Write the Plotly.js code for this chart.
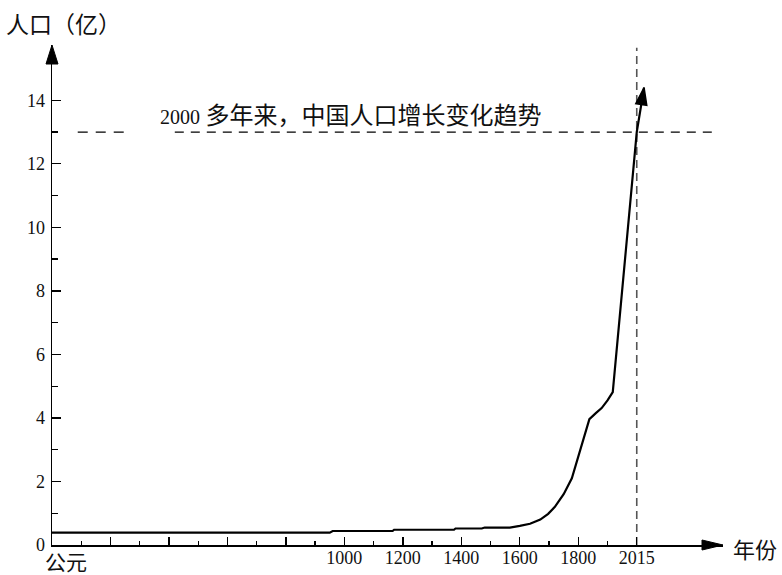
<!DOCTYPE html>
<html>
<head>
<meta charset="utf-8">
<script src="https://cdn.plot.ly/plotly-3.0.1.min.js"></script>
<style>html,body{margin:0;padding:0;background:#fff}#chart{width:782px;height:575px}</style>
</head>
<body>
<div id="chart"></div>
<script>
// Data (year, population in 亿)
const years = [0, 950, 960, 1165, 1170, 1375, 1380, 1470, 1480, 1566, 1600, 1635, 1670, 1697, 1720, 1750, 1778, 1806, 1838, 1860, 1880, 1900, 1918, 2000, 2025];
const population = [0.39, 0.39, 0.44, 0.44, 0.48, 0.48, 0.52, 0.52, 0.55, 0.55, 0.60, 0.67, 0.80, 0.98, 1.2, 1.6, 2.1, 3.0, 3.96, 4.15, 4.31, 4.55, 4.81, 13.0, 14.4];

const xMajorTicks = [200, 400, 600, 800, 1000, 1200, 1400, 1600, 1800, 2000];
const xMajorLabels = ['', '', '', '', '1000', '1200', '1400', '1600', '1800', '2015'];
const xMinorTicks = [100, 300, 500, 700, 900, 1100, 1300, 1500, 1700, 1900];
const yMajorTicks = [0, 2, 4, 6, 8, 10, 12, 14];
const yMinorTicks = [1, 3, 5, 7, 9, 11, 13];

const refLevel = 13;      // dashed horizontal reference (亿)
const refYear = 2000;     // dashed vertical reference, labelled 2015

const titleText = '<span style="font-family:\'Liberation Serif\';font-size:20px">2000</span> 多年来，中国人口增长变化趋势';
const yLabel = '人口（亿）';
const xLabel = '年份';
const originLabel = '公元';

const curve = {
  x: years, y: population, type: 'scatter', mode: 'lines',
  line: {color: '#000', width: 2.2},
  hoverinfo: 'skip', showlegend: false
};
// arrow head at the end of the curve, using the last two data points
const head = {
  x: years.slice(-2), y: population.slice(-2), type: 'scatter', mode: 'markers',
  marker: {symbol: 'arrow', angleref: 'previous', size: [0, 18], color: '#000', opacity: 1, line: {width: 1.5, color: '#000'}},
  hoverinfo: 'skip', showlegend: false
};

const serif = "'Liberation Serif', 'Times New Roman', serif";
const cjk = "'Noto Sans CJK SC', sans-serif";

const layout = {
  width: 782, height: 575,
  margin: {l: 52, r: 59, t: 45, b: 30},
  paper_bgcolor: '#fff', plot_bgcolor: '#fff',
  showlegend: false,
  xaxis: {
    range: [0, 2295], showgrid: false, zeroline: false,
    showline: true, linecolor: '#000', linewidth: 1.5,
    tickmode: 'array', tickvals: xMajorTicks, ticktext: xMajorLabels,
    ticks: 'inside', ticklen: 8, tickwidth: 1.3, tickcolor: '#000',
    minor: {tickmode: 'array', tickvals: xMinorTicks, ticks: 'inside', ticklen: 4, tickwidth: 1.3, tickcolor: '#000', showgrid: false},
    tickfont: {family: serif, size: 18, color: '#111'},
    ticklabelstandoff: -4,
    fixedrange: true
  },
  yaxis: {
    range: [0, 15.74], showgrid: false, zeroline: false,
    showline: true, linecolor: '#000', linewidth: 1.5,
    tickmode: 'array', tickvals: yMajorTicks,
    ticks: 'inside', ticklen: 9, tickwidth: 1.3, tickcolor: '#000',
    minor: {tickmode: 'array', tickvals: yMinorTicks, ticks: 'inside', ticklen: 6, tickwidth: 1.3, tickcolor: '#000', showgrid: false},
    tickfont: {family: serif, size: 18, color: '#111'},
    ticklabelstandoff: 2,
    fixedrange: true
  },
  shapes: [
    {type: 'line', layer: 'below', xref: 'x', yref: 'y', x0: 88, x1: 250, y0: refLevel, y1: refLevel, line: {color: '#000', width: 1.2, dash: '10px,8px'}},
    {type: 'line', layer: 'below', xref: 'x', yref: 'y', x0: 420, x1: 2258, y0: refLevel, y1: refLevel, line: {color: '#000', width: 1.2, dash: '9px,7px'}},
    {type: 'line', layer: 'below', xref: 'x', yref: 'y', x0: refYear, x1: refYear, y0: 0, y1: 15.65, line: {color: '#555', width: 1.6, dash: '8px,5px'}},
    {type: 'path', xref: 'paper', yref: 'paper', xsizemode: 'pixel', ysizemode: 'pixel', xanchor: 0, yanchor: 1,
     path: 'M-6,-19 L0,0 L6,-19 Z', fillcolor: '#000', line: {color: '#000', width: 1}},
    {type: 'path', xref: 'paper', yref: 'paper', xsizemode: 'pixel', ysizemode: 'pixel', xanchor: 1, yanchor: 0,
     path: 'M-21,5 L0,0 L-21,-5 Z', fillcolor: '#000', line: {color: '#000', width: 1}}
  ],
  annotations: [
    {text: yLabel, xref: 'paper', yref: 'paper', x: 0.0174, y: 1.044, xanchor: 'center', yanchor: 'middle', showarrow: false,
     font: {family: cjk, size: 23, color: '#111'}},
    {text: xLabel, xref: 'paper', yref: 'paper', x: 1.0484, y: -0.005, xanchor: 'center', yanchor: 'middle', showarrow: false,
     font: {family: cjk, size: 22, color: '#111'}},
    {text: originLabel, xref: 'paper', yref: 'paper', x: 0.0212, y: -0.032, xanchor: 'center', yanchor: 'middle', showarrow: false,
     font: {family: cjk, size: 21, color: '#111'}},
    {text: titleText, xref: 'paper', yref: 'paper', x: 0.158, y: 0.864, xanchor: 'left', yanchor: 'middle', showarrow: false,
     font: {family: cjk, size: 24, color: '#111'}}
  ]
};

Plotly.newPlot('chart', [curve, head], layout, {displayModeBar: false, staticPlot: true});
</script>
</body>
</html>
